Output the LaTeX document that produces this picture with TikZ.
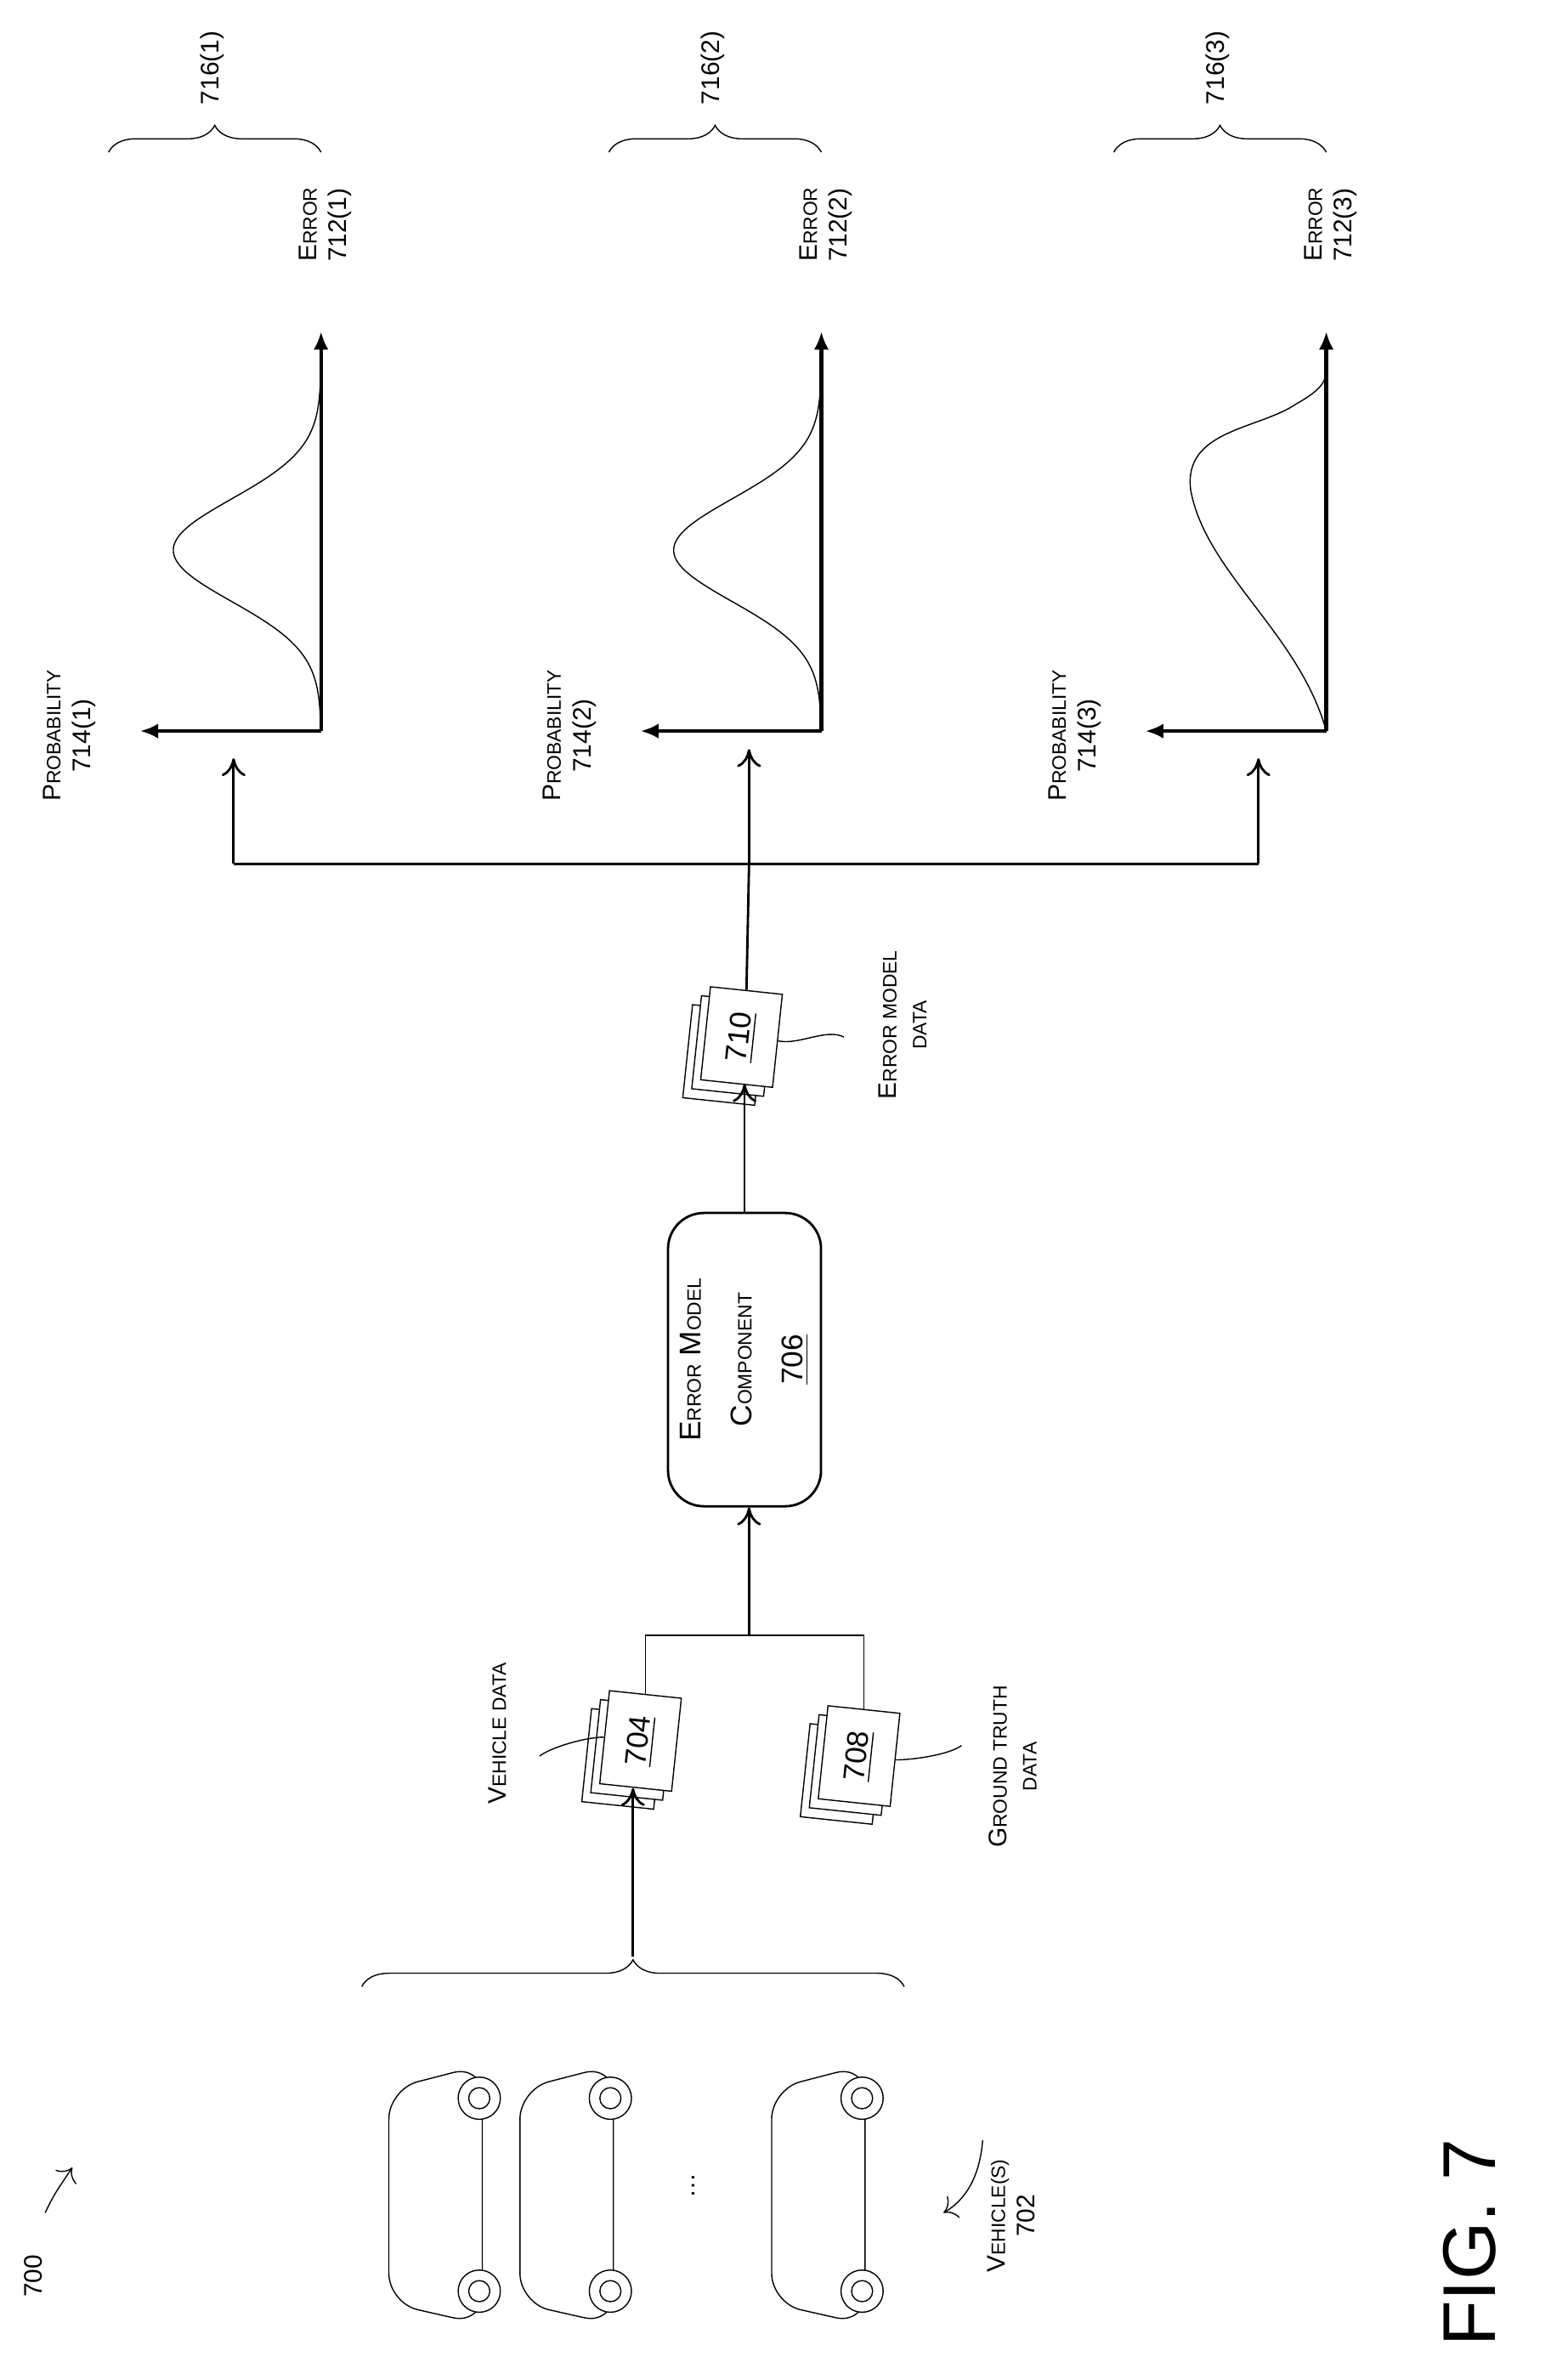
\documentclass[tikz,border=0pt]{standalone}
\usepackage{fontspec}
\setmainfont{Liberation Sans}
\usetikzlibrary{arrows.meta,decorations.pathreplacing,shadows}
\newcommand\smc[2]{#1{\fontsize{6.5}{8}\selectfont #2}}
\tikzset{
  lbl/.style={rotate=90,font=\fontsize{8.5}{10}\selectfont,inner sep=1pt},
  doc/.style={draw,fill=white,rotate=84,minimum width=1.1cm,minimum height=0.85cm,
    font=\fontsize{10}{12}\selectfont,
    double copy shadow={shadow xshift=-3pt,shadow yshift=-3pt,draw,fill=white}},
  bus/.style={thick,-{To[length=6pt,width=8pt]}},
  axis/.style={very thick,-{Latex[length=6pt,width=5pt]}},
  curl/.style={decorate,decoration={brace,amplitude=9pt}},
  pics/car/.style={code={
    \draw[rounded corners=10] (0,16) -- (62,0) -- (62,172) -- (0,158) -- cycle;
    \foreach \w in {22,150} {
      \draw[fill=white] (60,\w) circle (14);
      \draw (60,\w) circle (7);
    }
  }}
}
\begin{document}
\begin{tikzpicture}[x=0.01773cm,y=-0.01773cm]
  \useasboundingbox (0,0) rectangle (1040,1571);
  % Title and figure number
  \node[lbl] (n700) at (22,1510) {700};
  \coordinate (a700) at (48,1438);
  \draw[-{To[length=4pt]}] (30,1468) .. controls (36,1455) and (40,1450) .. (a700);
  \node[rotate=90,font=\fontsize{25}{28}\selectfont] (fig) at (975,1488) {FIG. 7};
  % Vehicles
  \pic at (258,1370) {car};
  \pic at (345,1370) {car};
  \pic at (512,1370) {car};
  \node[lbl] (dots) at (460,1450) {\dots};
  \node[lbl,align=center] (v702) at (671,1470) {\smc{V}{EHICLE(S)}\\702};
  \coordinate (pv) at (626,1468);
  \draw[-{To[length=4pt]}] (652,1420) .. controls (650,1445) and (640,1460) .. (pv);
  \draw[curl] (240,1318) -- (600,1318);
  \coordinate (tip702) at (420,1298);
  % Input data
  \node[doc] (d704) at (425,1155) {\underline{704}};
  \node[doc] (d708) at (570,1165) {\underline{708}};
  \node[lbl] (l704) at (330,1150) {\smc{V}{EHICLE DATA}};
  \node[lbl,align=center] (l708) at (672,1172) {\smc{G}{ROUND TRUTH}\\\smc{}{DATA}};
  \coordinate (s704) at (358,1165);
  \coordinate (s708) at (638,1158);
  \draw (d704.north) .. controls +(-12,0) and +(8,-6) .. (s704);
  \draw (d708.south) .. controls +(12,0) and +(-8,6) .. (s708);
  \draw[bus] (tip702) -- (tip702 |- d704.west);
  \coordinate (jn) at (497,1085);
  \draw (d704.east) -- (d704.east |- jn) -- (d708.east |- jn) -- (d708.east);
  % Error model
  \node[draw,thick,rounded corners=12,rotate=90,minimum width=3.45cm,minimum height=1.8cm,
    align=center,font=\fontsize{10}{17}\selectfont] (emc) at (494,902)
    {\smc{E}{RROR} \smc{M}{ODEL}\\\smc{C}{OMPONENT}\\\underline{706}};
  \draw[bus] (jn) -- (jn |- emc.west);
  \node[doc] (d710) at (492,688) {\underline{710}};
  \node[lbl,align=center] (l710) at (599,680) {\smc{E}{RROR MODEL}\\\smc{}{DATA}};
  \coordinate (s710) at (560,688);
  \draw (d710.south) .. controls +(14,3) and +(-12,-6) .. (s710);
  \draw[bus] (emc.east) -- (emc.east |- d710.west);
  % Distribution to the error models
  \coordinate (hub) at (497,573);
  \coordinate (b1) at (155,573);
  \coordinate (b3) at (835,573);
  \coordinate (t1) at (155,503);
  \coordinate (t2) at (497,497);
  \coordinate (t3) at (835,503);
  \draw[thick] (d710.east) -- (hub);
  \draw[thick] (b1) -- (b3);
  \draw[bus] (b1) -- (t1);
  \draw[bus] (hub) -- (t2);
  \draw[bus] (b3) -- (t3);
  % Distributions
  \foreach \i/\cx in {1/213,2/545,3/880} {
    \coordinate (o\i) at (\cx,485);
    \coordinate (e\i) at (\cx,220);
    \coordinate (p\i) at (\cx-120,485);
    \draw[axis] (o\i) -- (e\i);
    \draw[axis] (o\i) -- (p\i);
    \node[lbl,align=left,anchor=west] (err\i) at (\cx+3,176) {\smc{E}{RROR}\\712(\i)};
    \node[lbl,align=center] (prob\i) at (\cx-167,488) {\smc{P}{ROBABILITY}\\714(\i)};
    \draw[curl] (\cx-141,101) -- (\cx,101);
    \node[lbl] (g\i) at (\cx-72,45) {716(\i)};
  }
  \foreach \cx in {213,545} {
    \draw plot[domain=485:250,samples=80,smooth] ({\cx-98*exp(-((\x-365)/48)^2)},\x);
  }
  \draw (o3) .. controls (862,420) and (800,380) .. (790,325)
    .. controls (785,285) and (835,285) .. (860,268)
    .. controls (878,258) and (880,252) .. (880,245);
\end{tikzpicture}
\end{document}
